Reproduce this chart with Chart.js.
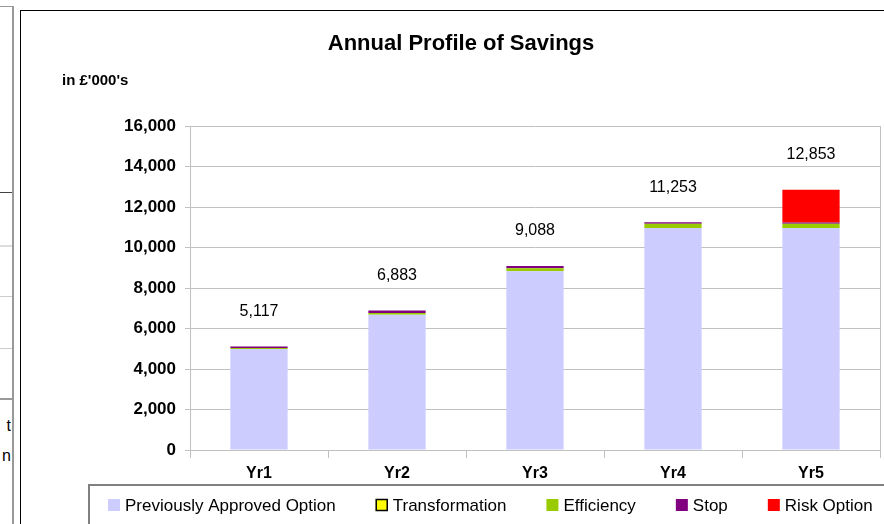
<!DOCTYPE html>
<html><head><meta charset="utf-8">
<script src="https://cdn.jsdelivr.net/npm/chart.js@4.4.0/dist/chart.umd.min.js"></script>
<style>
html,body{margin:0;padding:0;background:#fff;width:884px;height:524px;overflow:hidden;font-family:"Liberation Sans",Arial,sans-serif;}
.l{position:absolute;}
#c{position:absolute;left:0;top:0;}
</style></head><body>
<div class="l" style="left:0;top:6px;width:12px;height:1px;background:#999"></div>
<div class="l" style="left:12px;top:6px;width:2px;height:518px;background:#999"></div>
<div class="l" style="left:0;top:192px;width:12px;height:1px;background:#444"></div>
<div class="l" style="left:0;top:245px;width:12px;height:2px;background:#ddd"></div>
<div class="l" style="left:0;top:296px;width:12px;height:1px;background:#ccc"></div>
<div class="l" style="left:0;top:348px;width:12px;height:1px;background:#ccc"></div>
<div class="l" style="left:0;top:398px;width:12px;height:2px;background:#999"></div>
<div class="l" style="left:0;top:416px;width:11px;text-align:right;font-size:16px;line-height:20px;overflow:hidden;white-space:nowrap">t</div>
<div class="l" style="left:0;top:446px;width:11px;text-align:right;font-size:16px;line-height:20px;overflow:hidden;white-space:nowrap">n</div>
<div class="l" style="left:20px;top:10px;width:864px;height:1px;background:#000"></div>
<div class="l" style="left:20px;top:10px;width:1px;height:514px;background:#000"></div>
<div class="l" style="left:88px;top:484px;width:796px;height:2px;background:#808080"></div>
<div class="l" style="left:88px;top:484px;width:2px;height:40px;background:#808080"></div>
<canvas id="c" width="884" height="524"></canvas>
<script>
const categories = ['Yr1', 'Yr2', 'Yr3', 'Yr4', 'Yr5'];
const previouslyApproved = [4983, 6683, 8823, 10968, 10968];
const transformation = [0, 0, 0, 0, 0];
const efficiency = [50, 85, 150, 200, 200];
const stopValues = [84, 115, 115, 85, 70];
const riskOption = [0, 0, 0, 0, 1615];
const totals = [5117, 6883, 9088, 11253, 12853];
const yMin = 0, yMax = 16000, yStep = 2000;

const FONT = '"Liberation Sans", Arial, sans-serif';
const GRID = '#c0c0c0';

const textPlugin = {
  id: 'texts',
  afterDraw(chart) {
    const ctx = chart.ctx;
    const ca = chart.chartArea;
    const xs = chart.scales.x, ys = chart.scales.y;
    ctx.save();
    // plot right border
    ctx.strokeStyle = GRID; ctx.lineWidth = 1;
    ctx.beginPath(); ctx.moveTo(ca.right + 0.5, ca.top); ctx.lineTo(ca.right + 0.5, ca.bottom + 8); ctx.stroke();
    ctx.fillStyle = '#000';
    // title
    ctx.font = 'bold 22px ' + FONT;
    ctx.textAlign = 'center'; ctx.textBaseline = 'middle';
    ctx.fillText('Annual Profile of Savings', 461, 44);
    ctx.font = 'bold 15px ' + FONT;
    ctx.textAlign = 'left';
    ctx.fillText("in \u00a3'000's", 62, 81);
    // totals
    ctx.font = '16px ' + FONT;
    ctx.textAlign = 'center';
    totals.forEach((t, i) => {
      const x = xs.getPixelForValue(i);
      const y = ys.getPixelForValue(t) - 35;
      ctx.fillText(t.toLocaleString('en-US'), x, y);
    });
    // legend
    ctx.font = '17px ' + FONT;
    ctx.textAlign = 'left';
    let lx = 108; const ly = 505;
    chart.data.datasets.forEach(ds => {
      ctx.fillStyle = ds.backgroundColor;
      ctx.fillRect(lx, ly - 6, 12, 12);
      if (ds.legendBorder) {
        ctx.strokeStyle = '#000'; ctx.lineWidth = 1.5;
        ctx.strokeRect(lx + 0.5, ly - 5.5, 11, 11);
      }
      ctx.fillStyle = '#000';
      ctx.fillText(ds.label, lx + 17, ly + 1);
      lx += 17 + ctx.measureText(ds.label).width + 40;
    });
    ctx.restore();
  }
};

new Chart(document.getElementById('c'), {
  type: 'bar',
  data: {
    labels: categories,
    datasets: [
      { label: 'Previously Approved Option', data: previouslyApproved, backgroundColor: '#ccccff' },
      { label: 'Transformation', data: transformation, backgroundColor: '#ffff00', legendBorder: true },
      { label: 'Efficiency', data: efficiency, backgroundColor: '#99cc00' },
      { label: 'Stop', data: stopValues, backgroundColor: '#800080' },
      { label: 'Risk Option', data: riskOption, backgroundColor: '#ff0000' }
    ]
  },
  options: {
    responsive: false,
    animation: false,
    datasets: { bar: { barPercentage: 0.415, categoryPercentage: 1.0, borderWidth: 0 } },
    layout: { padding: { left: 100, right: 4, top: 126, bottom: 44 } },
    plugins: { legend: { display: false }, title: { display: false }, tooltip: { enabled: false } },
    scales: {
      x: {
        stacked: true,
        grid: { display: true, drawOnChartArea: false, drawTicks: true, tickLength: 8, color: GRID, offset: true },
        border: { color: GRID },
        ticks: { font: { family: FONT, size: 16, weight: 'bold' }, color: '#000', padding: 6 },
        afterFit(s) { s.height = 30; }
      },
      y: {
        stacked: true, min: yMin, max: yMax,
        ticks: { stepSize: yStep, font: { family: FONT, size: 17, weight: 'bold' }, color: '#000', padding: 9,
                 callback: v => v.toLocaleString('en-US') },
        grid: { color: GRID, tickLength: 5 },
        border: { color: GRID },
        afterFit(s) { s.width = 90; }
      }
    }
  },
  plugins: [textPlugin]
});
</script>
</body></html>
